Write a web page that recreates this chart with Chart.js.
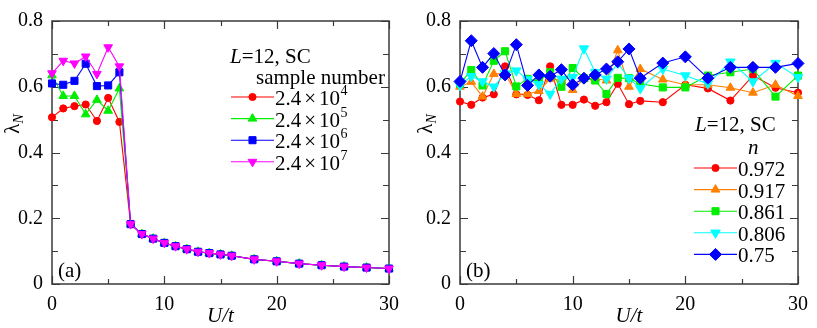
<!DOCTYPE html>
<html>
<head>
<meta charset="utf-8">
<script src="https://cdn.jsdelivr.net/npm/chart.js@4.4.0/dist/chart.umd.min.js"></script>
<style>
  html, body { margin: 0; padding: 0; background: #fff; }
  #wrap { position: relative; width: 817px; height: 328px; }
  canvas { position: absolute; top: 0; }
  #leftChart { left: 0; }
  #rightChart { left: 408px; }
</style>
</head>
<body>
<div id="wrap">
  <canvas id="leftChart" width="408" height="328"></canvas>
  <canvas id="rightChart" width="409" height="328"></canvas>
</div>
<script>
// U/t values (same grid for both panels)
const uVals = [0, 1, 2, 3, 4, 5, 6, 7, 8, 9, 10, 11, 12, 13, 14, 15, 16, 18, 20, 22, 24, 26, 28, 30];

// (a) lambda_N vs U/t for different sample numbers
const sampleLabels = ["4", "5", "6", "7"]; // exponent of 2.4x10^k
const lam24e4 = [0.507, 0.534, 0.541, 0.546, 0.496, 0.566, 0.493, 0.182, 0.152, 0.138, 0.125, 0.115, 0.106, 0.098, 0.094, 0.090, 0.086, 0.075, 0.069, 0.062, 0.057, 0.053, 0.050, 0.047];
const lam24e5 = [0.635, 0.572, 0.572, 0.516, 0.560, 0.527, 0.595, 0.182, 0.152, 0.138, 0.125, 0.115, 0.106, 0.098, 0.094, 0.090, 0.086, 0.075, 0.069, 0.062, 0.057, 0.053, 0.050, 0.047];
const lam24e6 = [0.610, 0.606, 0.618, 0.670, 0.602, 0.604, 0.644, 0.182, 0.152, 0.138, 0.125, 0.115, 0.106, 0.098, 0.094, 0.090, 0.086, 0.075, 0.069, 0.062, 0.057, 0.053, 0.050, 0.047];
const lam24e7 = [0.641, 0.679, 0.671, 0.692, 0.639, 0.720, 0.662, 0.182, 0.152, 0.138, 0.125, 0.115, 0.106, 0.098, 0.094, 0.090, 0.086, 0.075, 0.069, 0.062, 0.057, 0.053, 0.050, 0.047];

// (b) lambda_N vs U/t for different fillings n
const fillLabels = ["0.972", "0.917", "0.861", "0.806", "0.75"];
const n0972 = [0.555, 0.545, 0.567, 0.577, 0.662, 0.577, 0.575, 0.559, 0.662, 0.545, 0.545, 0.561, 0.542, 0.553, 0.609, 0.547, 0.557, 0.553, 0.606, 0.595, 0.558, 0.634, 0.597, 0.582];
const n0917 = [0.600, 0.615, 0.570, 0.639, 0.640, 0.578, 0.578, 0.587, 0.624, 0.620, 0.590, 0.624, 0.625, 0.619, 0.711, 0.600, 0.654, 0.622, 0.606, 0.606, 0.597, 0.582, 0.606, 0.572];
const n0861 = [0.609, 0.651, 0.604, 0.679, 0.708, 0.601, 0.624, 0.616, 0.644, 0.600, 0.657, 0.626, 0.619, 0.578, 0.627, 0.626, 0.609, 0.598, 0.598, 0.634, 0.644, 0.654, 0.570, 0.634];
const n0806 = [0.604, 0.632, 0.616, 0.600, 0.640, 0.649, 0.622, 0.607, 0.578, 0.624, 0.629, 0.716, 0.644, 0.624, 0.672, 0.626, 0.595, 0.654, 0.634, 0.609, 0.676, 0.616, 0.672, 0.629];
const n075 = [0.616, 0.740, 0.659, 0.701, 0.636, 0.728, 0.604, 0.636, 0.632, 0.652, 0.606, 0.626, 0.636, 0.654, 0.676, 0.715, 0.626, 0.672, 0.691, 0.626, 0.659, 0.659, 0.659, 0.671];

const SERIF = '"Liberation Serif", "Times New Roman", serif';
const AXIS_COLOR = "#3a3a3a";

function toPoints(ys) {
  return uVals.map((u, i) => ({ x: u, y: ys[i] }));
}

function makeDataset(label, ys, color, style, radius, rotation, order) {
  return {
    label: label,
    data: toPoints(ys),
    borderColor: color,
    backgroundColor: color,
    pointBackgroundColor: color,
    pointBorderColor: color,
    pointStyle: style,
    pointRadius: radius,
    pointRotation: rotation,
    pointBorderWidth: 1,
    borderWidth: 1.1,
    tension: 0,
    clip: false,
    order: order,
  };
}

// simple marker for the hand drawn legends
function drawMarker(ctx, ds, x, y) {
  ctx.save();
  ctx.fillStyle = ds.pointBackgroundColor;
  ctx.strokeStyle = ds.pointBorderColor;
  ctx.lineWidth = 1;
  if (Chart.helpers && Chart.helpers.drawPoint) {
    Chart.helpers.drawPoint(ctx, {
      pointStyle: ds.pointStyle,
      rotation: ds.pointRotation,
      radius: ds.pointRadius,
      borderWidth: 1,
    }, x, y);
  } else {
    ctx.beginPath();
    ctx.arc(x, y, ds.pointRadius, 0, Math.PI * 2);
    ctx.fill();
  }
  ctx.restore();
}

// frame with inward ticks on all four sides
const framePlugin = {
  id: "frameTicks",
  beforeDatasetsDraw(chart) {
    const { ctx, chartArea: a, scales } = chart;
    const xs = scales.x, ys = scales.y;
    ctx.save();
    ctx.strokeStyle = AXIS_COLOR;
    ctx.lineWidth = 1.5;
    ctx.strokeRect(a.left, a.top, a.right - a.left, a.bottom - a.top);
    ctx.lineWidth = 1.2;
    ctx.beginPath();
    for (let v = 0; v <= 30; v += 5) {
      const len = v % 10 === 0 ? 8 : 5;
      const px = Math.round(xs.getPixelForValue(v)) + 0.5;
      ctx.moveTo(px, a.bottom); ctx.lineTo(px, a.bottom - len);
      ctx.moveTo(px, a.top); ctx.lineTo(px, a.top + len);
    }
    for (let k = 0; k <= 8; k++) {
      const v = k / 10;
      const len = k % 2 === 0 ? 8 : 6;
      const py = Math.round(ys.getPixelForValue(v)) + 0.5;
      ctx.moveTo(a.left, py); ctx.lineTo(a.left + len, py);
      ctx.moveTo(a.right, py); ctx.lineTo(a.right - len, py);
    }
    ctx.stroke();
    ctx.restore();
  },
};

// axis titles, panel tag and legend
function makeDecor(opts) {
  return {
    id: "decor",
    afterDraw(chart) {
      const { ctx, chartArea: a } = chart;
      ctx.save();
      ctx.fillStyle = "#000";

      // x title U/t
      ctx.font = "italic 21px " + SERIF;
      ctx.textAlign = "center";
      ctx.textBaseline = "alphabetic";
      ctx.fillText("U/t", (a.left + a.right) / 2, 322);

      // y title lambda_N
      ctx.save();
      ctx.translate(opts.yTitleX, 124);
      ctx.rotate(-Math.PI / 2);
      ctx.font = "21px " + SERIF;
      const w1 = ctx.measureText("λ").width;
      ctx.font = "italic 14px " + SERIF;
      const w2 = ctx.measureText("N").width;
      const start = -(w1 + w2) / 2;
      ctx.textAlign = "left";
      ctx.font = "21px " + SERIF;
      ctx.fillText("λ", start, 6);
      ctx.font = "italic 14px " + SERIF;
      ctx.fillText("N", start + w1, 10);
      ctx.restore();

      // panel tag
      ctx.font = "21px " + SERIF;
      ctx.textAlign = "left";
      ctx.fillText(opts.tag, a.left + 6, 277);

      // header lines
      ctx.font = "italic 21px " + SERIF;
      const lw = ctx.measureText("L").width;
      ctx.fillText("L", opts.headX, opts.headY);
      ctx.font = "21px " + SERIF;
      ctx.fillText("=12, SC", opts.headX + lw, opts.headY);
      ctx.font = opts.subItalic ? "italic 21px " + SERIF : "21px " + SERIF;
      ctx.fillText(opts.sub, opts.subX, opts.subY);

      // legend rows
      chart.data.datasets.forEach((ds, i) => {
        const cy = opts.rowY + i * opts.rowGap;
        ctx.save();
        ctx.strokeStyle = ds.borderColor;
        ctx.lineWidth = 1.1;
        ctx.beginPath();
        ctx.moveTo(opts.lineX0, cy);
        ctx.lineTo(opts.lineX1, cy);
        ctx.stroke();
        ctx.restore();
        drawMarker(ctx, ds, (opts.lineX0 + opts.lineX1) / 2, cy);
        opts.drawLabel(ctx, ds.label, opts.lineX1 + 1, cy + 8);
      });
      ctx.restore();
    },
  };
}

function baseOptions(rightPad) {
  return {
    responsive: false,
    animation: false,
    devicePixelRatio: 1,
    layout: { padding: { top: 14, right: rightPad, left: 0, bottom: 0 } },
    plugins: { legend: { display: false }, tooltip: { enabled: false } },
    scales: {
      x: {
        type: "linear",
        min: 0,
        max: 30,
        grid: { display: false, drawTicks: false },
        border: { display: false },
        ticks: {
          stepSize: 10,
          padding: 9,
          color: "#000",
          font: { family: SERIF, size: 20 },
          maxRotation: 0,
        },
        afterFit(scale) { scale.height = 44; },
      },
      y: {
        min: 0,
        max: 0.8,
        grid: { display: false, drawTicks: false },
        border: { display: false },
        ticks: {
          stepSize: 0.2,
          padding: 9,
          color: "#000",
          font: { family: SERIF, size: 20 },
          callback: (v) => (v === 0 ? "0" : v.toFixed(1)),
        },
        afterFit(scale) { scale.width = 52; },
      },
    },
  };
}

// (a)
new Chart(document.getElementById("leftChart"), {
  type: "line",
  data: {
    datasets: [
      makeDataset(sampleLabels[0], lam24e4, "#ff0000", "circle", 3.6, 0, 3),
      makeDataset(sampleLabels[1], lam24e5, "#00ee00", "triangle", 5, 0, 2),
      makeDataset(sampleLabels[2], lam24e6, "#0000ff", "rect", 5, 0, 1),
      makeDataset(sampleLabels[3], lam24e7, "#ff00ff", "triangle", 5, 180, 0),
    ],
  },
  options: baseOptions(15),
  plugins: [
    framePlugin,
    makeDecor({
      tag: "(a)",
      yTitleX: 13,
      headX: 230, headY: 63,
      sub: "sample number", subX: 256, subY: 84, subItalic: false,
      rowY: 97, rowGap: 21.6,
      lineX0: 231, lineX1: 274,
      drawLabel(ctx, exp, x, y) {
        ctx.font = "21px " + SERIF;
        ctx.textAlign = "left";
        ctx.fillText("2.4", x, y);
        let px = x + ctx.measureText("2.4").width + 3;
        ctx.fillText("×", px, y);
        px += ctx.measureText("×").width + 3;
        ctx.fillText("10", px, y);
        px += ctx.measureText("10").width + 0.5;
        ctx.font = "14px " + SERIF;
        ctx.fillText(exp, px, y - 10);
      },
    }),
  ],
});

// (b)
new Chart(document.getElementById("rightChart"), {
  type: "line",
  data: {
    datasets: [
      makeDataset(fillLabels[0], n0972, "#ff0000", "circle", 3.6, 0, 4),
      makeDataset(fillLabels[1], n0917, "#ff8000", "triangle", 5, 0, 3),
      makeDataset(fillLabels[2], n0861, "#00ee00", "rect", 5, 0, 2),
      makeDataset(fillLabels[3], n0806, "#00ffff", "triangle", 5.5, 180, 1),
      makeDataset(fillLabels[4], n075, "#0000ff", "rectRot", 6, 0, 0),
    ],
  },
  options: baseOptions(17),
  plugins: [
    framePlugin,
    makeDecor({
      tag: "(b)",
      yTitleX: 18,
      headX: 287, headY: 131,
      sub: "n", subX: 340, subY: 154, subItalic: true,
      rowY: 168, rowGap: 21.6,
      lineX0: 286, lineX1: 329,
      drawLabel(ctx, txt, x, y) {
        ctx.font = "21px " + SERIF;
        ctx.textAlign = "left";
        ctx.fillText(txt, x, y);
      },
    }),
  ],
});
</script>
</body>
</html>
